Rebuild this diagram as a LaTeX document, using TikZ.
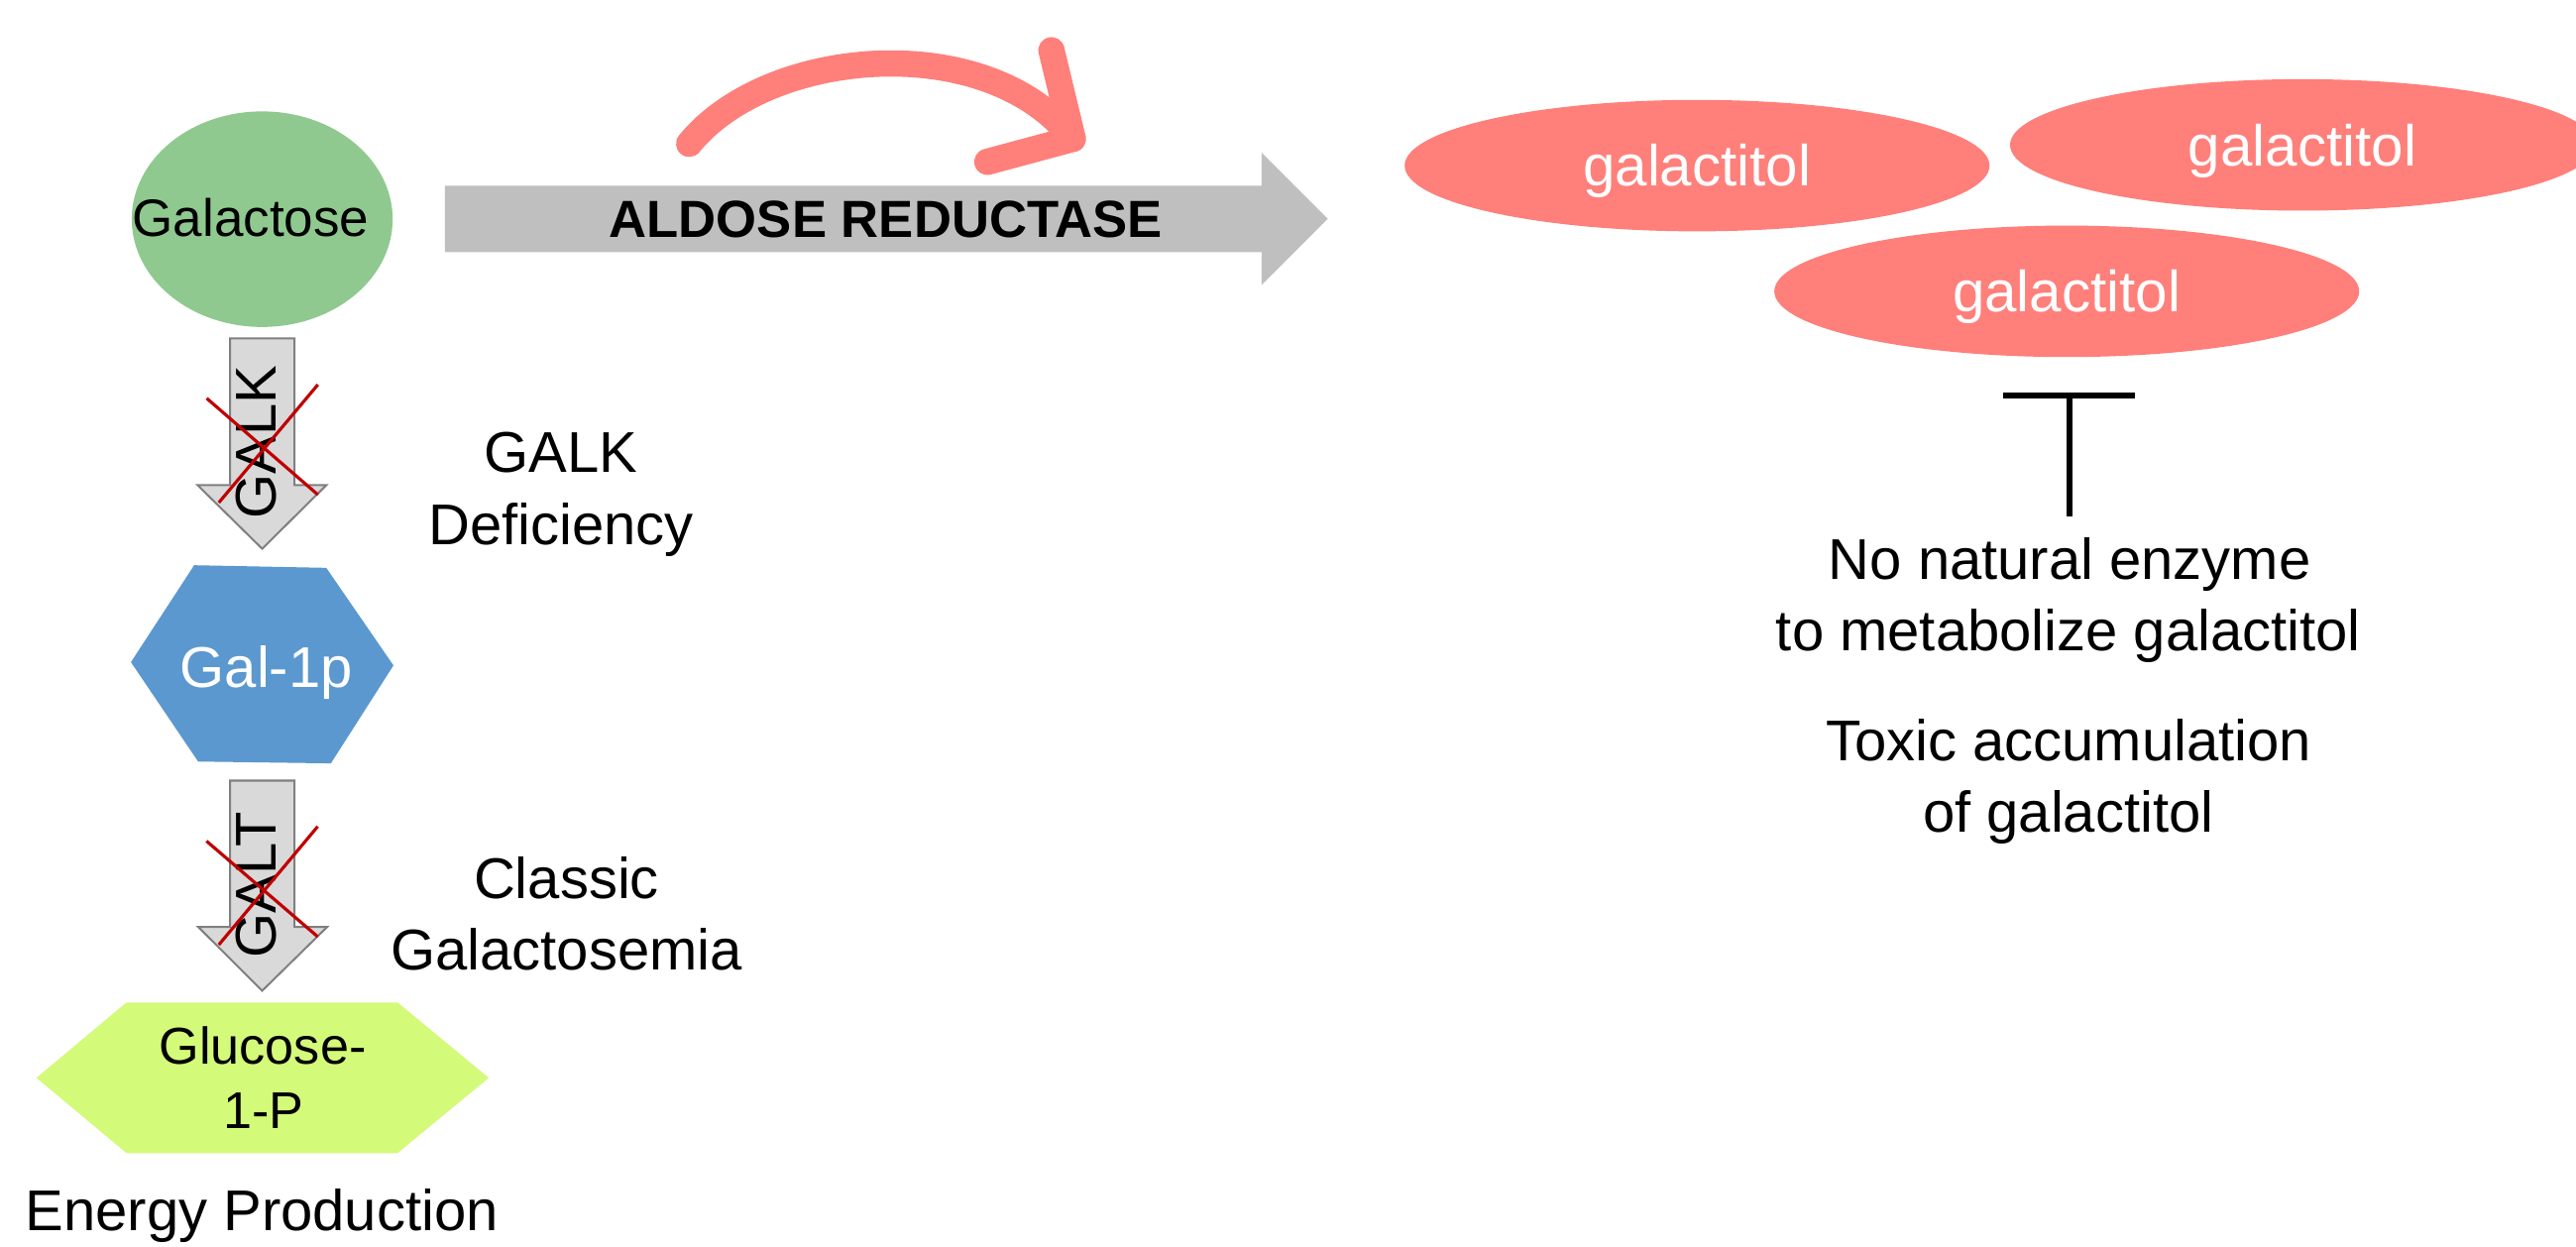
\documentclass[tikz,border=0pt]{standalone}
\usepackage{fontspec}
\setmainfont{Liberation Sans}
\usetikzlibrary{shapes.geometric,arrows.meta}
\definecolor{galgreen}{RGB}{143,201,143}
\definecolor{galblue}{RGB}{91,152,207}
\definecolor{glucyellow}{RGB}{212,250,122}
\definecolor{salmon}{RGB}{255,127,122}
\definecolor{arrowgray}{RGB}{191,191,191}
\definecolor{blockgray}{RGB}{217,217,217}
\definecolor{blockedge}{RGB}{128,128,128}
\definecolor{crossred}{RGB}{192,0,0}
\newcommand{\unitlen}{0.016582cm}
\tikzset{
  lbl/.style={inner sep=0pt, anchor=base, font=\fontsize{16.51}{19.8}\selectfont},
  vlbl/.style={inner sep=0pt, anchor=center, rotate=90, font=\fontsize{16.51}{19.8}\selectfont},
  galellipse/.style={ellipse, fill=salmon, inner sep=0pt,
    minimum width=356*\unitlen, minimum height=80*\unitlen,
    text=white, font=\fontsize{16.6}{20}\selectfont, text height=11.9pt, text depth=0pt},
  blockarrow/.style={fill=blockgray, draw=blockedge, line width=0.57pt, line join=miter},
  crossline/.style={draw=crossred, line width=0.9pt},
  salmonline/.style={draw=salmon, line width=7.55pt, line cap=round, line join=round},
  inhibit/.style={draw=black, line width=1.56pt, -{Bar[width=37.8pt, line width=1.7pt]}}
}
\begin{document}
\begin{tikzpicture}[x=0.016582cm, y=-0.016582cm]
\useasboundingbox (0,0) rectangle (1568,758.36);
\fill[white] (0,0) rectangle (1568,758.36);

% ---------- Galactose ----------
\node[ellipse, fill=galgreen, inner sep=0pt, minimum width=158.8*\unitlen,
      minimum height=131.2*\unitlen] (galactose) at (159.6,133.4) {};
\node[inner sep=0pt, anchor=base, font=\fontsize{15.1}{18}\selectfont] (galactoseTxt) at (152.6,143.6) {Galactose};

% ---------- GALK block arrow ----------
\path[blockarrow] (140.1,205.9) -- (179.2,205.9) -- (179.2,295.3) -- (198.6,295.3)
  -- (159.6,334) -- (120.3,295.3) -- (140.1,295.3) -- cycle;
\node[vlbl] (galkTxt) at (155.9,269.2) {GALK};
\draw[crossline] (125.8,242.4) -- (193.5,301.1);
\draw[crossline] (133.2,305.9) -- (193.5,234.1);

\node[lbl] (galkDefA) at (341.6,287.4) {GALK};
\node[lbl] (galkDefB) at (341.6,331.3) {Deficiency};

% ---------- Gal-1p hexagon ----------
\fill[galblue] (118.2,344) -- (198.6,345.6) -- (239.5,405) -- (201.4,464.6)
  -- (120.6,463.5) -- (79.7,403) -- cycle;
\node[lbl, text=white] (gal1p) at (162.1,418.3) {Gal-1p};

% ---------- GALT block arrow ----------
\path[blockarrow] (140.1,475.1) -- (179.2,475.1) -- (179.2,564.1) -- (199.2,564.1)
  -- (159.6,603) -- (120.6,564.1) -- (140.1,564.1) -- cycle;
\node[vlbl] (galtTxt) at (156,538.5) {GALT};
\draw[crossline] (125.7,511.9) -- (193.4,570.1);
\draw[crossline] (133.2,575) -- (193.4,503);

\node[lbl] (classicA) at (344.8,546.8) {Classic};
\node[lbl] (classicB) at (344.8,590.5) {Galactosemia};

% ---------- Glucose-1-P hexagon ----------
\fill[glucyellow] (77,610.1) -- (242,610.1) -- (297.5,656) -- (242,701.8)
  -- (77,701.8) -- (22.2,656) -- cycle;
\node[inner sep=0pt, anchor=base, font=\fontsize{14.86}{18}\selectfont] (glucA) at (159.9,647.8) {Glucose-};
\node[inner sep=0pt, anchor=base, font=\fontsize{14.86}{18}\selectfont] (glucB) at (160.5,686.6) {1-P};

\node[lbl] (energy) at (159.4,748.8) {Energy Production};

% ---------- Aldose reductase arrow ----------
\fill[arrowgray] (270.8,113.1) -- (768,113.1) -- (768,93) -- (808.2,133.2)
  -- (768,173.4) -- (768,153.5) -- (270.8,153.5) -- cycle;
\node[inner sep=0pt, anchor=base, font=\bfseries\fontsize{15.0}{18}\selectfont] (aldose) at (539.2,144.5) {ALDOSE REDUCTASE};

% ---------- curved salmon arrow ----------
\coordinate (curveStart) at (419.5,87.5);
\coordinate (curveTip) at (653,84.5);
\coordinate (headUp) at (640,30.6);
\coordinate (headLow) at (601,98.5);
\draw[salmonline] (curveStart) .. controls (468,28) and (602,18) .. (curveTip);
\draw[salmonline] (headUp) -- (curveTip) -- (headLow);

% ---------- galactitol ellipses ----------
\node[galellipse] (gtolA) at (1033,100.8) {galactitol};
\node[galellipse] (gtolB) at (1401.5,88.2) {galactitol};
\node[galellipse] (gtolC) at (1258,177.3) {galactitol};

% ---------- inhibition bar ----------
\coordinate (tBottom) at (1259.6,314.2);
\coordinate (tTop) at (1259.6,239.2);
\draw[inhibit] (tBottom) -- (tTop);

\node[lbl] (noenzA) at (1259.8,352.8) {No natural enzyme};
\node[lbl] (noenzB) at (1259,396) {to metabolize galactitol};
\node[lbl] (toxA) at (1259.2,463) {Toxic accumulation};
\node[lbl] (toxB) at (1259,506.4) {of galactitol};
\end{tikzpicture}
\end{document}
